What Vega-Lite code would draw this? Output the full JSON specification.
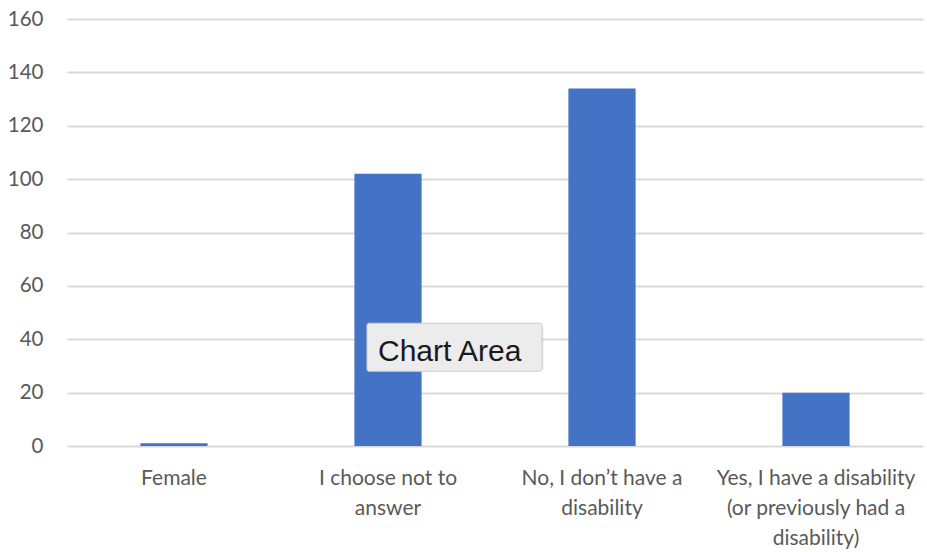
{
  "$schema": "https://vega.github.io/schema/vega-lite/v6.json",
  "width": 856,
  "height": 427,
  "autosize": "none",
  "padding": {"left": 67, "top": 19, "right": 4, "bottom": 106},
  "background": "#ffffff",
  "config": {
    "view": {"stroke": null},
    "font": "Lato"
  },
  "data": {
    "values": [
      {"answer": "Female", "count": 1},
      {"answer": "I choose not to answer", "count": 102},
      {"answer": "No, I don’t have a disability", "count": 134},
      {"answer": "Yes, I have a disability (or previously had a disability)", "count": 20}
    ]
  },
  "encoding": {
    "x": {
      "field": "answer",
      "type": "nominal",
      "sort": null,
      "scale": {"paddingInner": 0.686, "paddingOuter": 0.343},
      "axis": {
        "title": null,
        "labelAngle": 0,
        "labelFont": "Lato",
        "labelFontSize": 21,
        "labelColor": "#595959",
        "labelPadding": 21,
        "labelLineHeight": 30,
        "labelLimit": 300,
        "ticks": false,
        "domain": false,
        "labelExpr": "datum.value == 'I choose not to answer' ? ['I choose not to', 'answer'] : datum.value == 'No, I don’t have a disability' ? ['No, I don’t have a', 'disability'] : datum.value == 'Female' ? 'Female' : ['Yes, I have a disability', '(or previously had a', 'disability)']"
      }
    }
  },
  "layer": [
    {
      "mark": {"type": "bar", "color": "#4472C4"},
      "encoding": {
        "y": {
          "field": "count",
          "type": "quantitative",
          "scale": {"domain": [0, 160], "nice": false},
          "axis": {
            "title": null,
            "values": [0, 20, 40, 60, 80, 100, 120, 140, 160],
            "labelFont": "Lato",
            "labelFontSize": 20.5,
            "labelColor": "#595959",
            "labelPadding": 24,
            "ticks": false,
            "domain": false,
            "gridColor": "#d9d9d9",
            "gridWidth": 2
          }
        }
      }
    },
    {
      "data": {"values": [{"answer": "I choose not to answer", "tip": "Chart Area"}]},
      "mark": {"type": "bar", "width": 175, "xOffset": 68, "yOffset": 2, "color": "#000000", "opacity": 0.08, "cornerRadius": 3},
      "encoding": {
        "y": {"datum": 46, "type": "quantitative"},
        "y2": {"datum": 28}
      }
    },
    {
      "data": {"values": [{"answer": "I choose not to answer", "tip": "Chart Area"}]},
      "mark": {"type": "bar", "width": 175, "xOffset": 66.5, "color": "#ececec", "stroke": "#cfcfcf", "strokeWidth": 1, "cornerRadius": 2},
      "encoding": {
        "y": {"datum": 46, "type": "quantitative"},
        "y2": {"datum": 28}
      }
    },
    {
      "data": {"values": [{"answer": "I choose not to answer", "tip": "Chart Area"}]},
      "mark": {"type": "text", "align": "left", "baseline": "alphabetic", "xOffset": -10, "font": "Liberation Sans", "fontSize": 30, "color": "#1a1a1a"},
      "encoding": {
        "y": {"datum": 31.8, "type": "quantitative"},
        "text": {"field": "tip"}
      }
    }
  ]
}
